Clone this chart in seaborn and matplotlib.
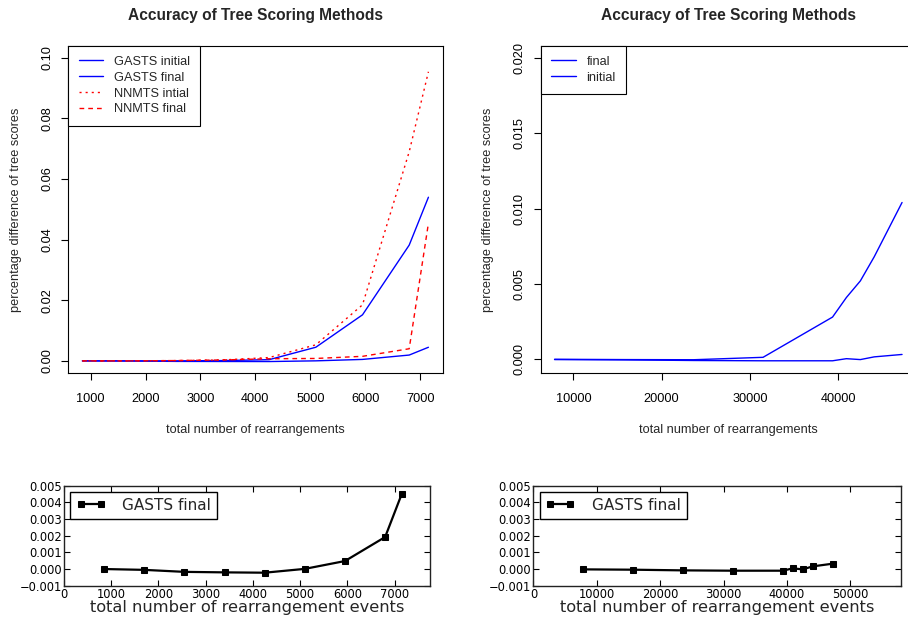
import matplotlib
matplotlib.use('Agg')
import matplotlib.pyplot as plt
from matplotlib.ticker import FuncFormatter
import seaborn as sns

# ── Data ──────────────────────────────────────────────────────────────
events_small = [850, 1700, 2550, 3400, 4250, 5100, 5950, 6800, 7150]
gasts_initial_small = [0.0, 0.0, 0.0, 0.0001, 0.0004, 0.0045, 0.0152, 0.0382, 0.0540]
gasts_final_small = [0.0, -0.00005, -0.00017, -0.0002, -0.00022, 0.00001, 0.00048, 0.00192, 0.00449]
nnmts_initial_small = [0.0, 0.0, 0.0001, 0.0003, 0.0011, 0.0053, 0.0185, 0.0690, 0.0954]
nnmts_final_small = [0.0, 0.0, 0.0001, 0.0003, 0.0007, 0.0008, 0.0015, 0.0040, 0.0454]

events_large = [7870, 15740, 23610, 31480, 39350, 40920, 42500, 44070, 47220]
gasts_initial_large = [0.0, -0.00002, -0.00003, 0.00013, 0.0028, 0.0041, 0.0052, 0.0068, 0.0104]
gasts_final_large = [-0.00002, -0.00004, -0.00008, -0.0001, -0.0001, 0.00004, -0.00002, 0.00016, 0.00032]

title_text = 'Accuracy of Tree Scoring Methods'
ylabel_text = 'percentage difference of tree scores'
xlabel_top = 'total number of rearrangements'
xlabel_bottom = 'total number of rearrangement events'

sns.set_style('ticks')

W, H = 908, 618
fig = plt.figure(figsize=(W / 100, H / 100), dpi=100)


def rect(l, t, r, b):
    return [l / W, 1 - b / H, (r - l) / W, (b - t) / H]


R_FONT = 'Liberation Sans'
MPL_FONT = 'DejaVu Sans'


def r_panel(ax, xticks, yticks, yfmt, ylab_x):
    # R base-graphics look: boxed, outward ticks, rotated y labels
    ax.set_xticks(xticks)
    ax.set_xticklabels([str(v) for v in xticks], fontfamily=R_FONT, fontsize=9.2)
    ax.set_yticks(yticks)
    ax.set_yticklabels([yfmt.format(v) for v in yticks], rotation=90, va='center',
                       fontfamily=R_FONT, fontsize=9.2)
    ax.tick_params(direction='out', length=5, width=0.8, colors='black')
    ax.tick_params(axis='x', pad=9)
    ax.tick_params(axis='y', pad=5.8)
    for s in ax.spines.values():
        s.set_visible(True)
        s.set_color('black')
        s.set_linewidth(0.8)
    ax.set_title(title_text, fontfamily=R_FONT, fontweight='bold', fontsize=11.2, pad=18.5)
    ax.set_xlabel(xlabel_top, fontfamily=R_FONT, fontsize=9.2, va='center')
    ax.set_ylabel(ylabel_text, fontfamily=R_FONT, fontsize=9.2, va='center')
    ax.xaxis.set_label_coords(0.5, -0.172)
    ax.yaxis.set_label_coords(ylab_x, 0.5)


def r_legend(ax, handles, labels):
    leg = ax.legend(handles, labels, loc='upper left', borderaxespad=0, fancybox=False,
                    frameon=True, handlelength=1.95, handletextpad=0.84, borderpad=0.8,
                    labelspacing=0.3, prop={'family': R_FONT, 'size': 9.2})
    leg.get_frame().set_edgecolor('black')
    leg.get_frame().set_linewidth(0.8)
    leg.get_frame().set_alpha(1)


# ════════════════════════════════════════════════════════════════════
# Top left: four methods vs rearrangements
# ════════════════════════════════════════════════════════════════════
ax1 = fig.add_axes(rect(68.3, 45.7, 442.7, 373.3))
sns.lineplot(x=events_small, y=gasts_initial_small, color='#0000FF', lw=1.0, ax=ax1)
sns.lineplot(x=events_small, y=gasts_final_small, color='#0000FF', lw=1.0, ax=ax1)
sns.lineplot(x=events_small, y=nnmts_initial_small, color='#FF0000', lw=1.0, ax=ax1)
sns.lineplot(x=events_small, y=nnmts_final_small, color='#FF0000', lw=1.0, ax=ax1)
l_gi, l_gf, l_ni, l_nf = ax1.lines[-4:]
l_ni.set_dashes((1.5, 2.9))
l_nf.set_dashes((3.4, 2.9))
ax1.set_xlim(593, 7410)
ax1.set_ylim(-0.0041, 0.104)
r_panel(ax1, [1000, 2000, 3000, 4000, 5000, 6000, 7000],
        [0.0, 0.02, 0.04, 0.06, 0.08, 0.10], '{:.2f}', -0.140)
r_legend(ax1, [l_gi, l_gf, l_ni, l_nf],
         ['GASTS initial', 'GASTS final', 'NNMTS intial', 'NNMTS final'])

# ════════════════════════════════════════════════════════════════════
# Top right: larger genomes
# ════════════════════════════════════════════════════════════════════
ax2 = fig.add_axes(rect(540.7, 45.7, 916, 373.3))
sns.lineplot(x=events_large, y=gasts_final_large, color='#0000FF', lw=1.0, ax=ax2)
sns.lineplot(x=events_large, y=gasts_initial_large, color='#0000FF', lw=1.0, ax=ax2)
l_f, l_i = ax2.lines[-2:]
ax2.set_xlim(6300, 48800)
ax2.set_ylim(-0.00093, 0.0208)
r_panel(ax2, [10000, 20000, 30000, 40000],
        [0.0, 0.005, 0.010, 0.015, 0.020], '{:.3f}', -0.140)
r_legend(ax2, [l_f, l_i], ['final', 'initial'])


# ════════════════════════════════════════════════════════════════════
# Bottom row: GASTS final close-ups (classic matplotlib look)
# ════════════════════════════════════════════════════════════════════
def minus_fmt(v, pos):
    return f'{v:.3f}'.replace('-', '\u2212')


def classic_panel(ax, x, y, xmax, xticks):
    sns.lineplot(x=x, y=y, color='black', lw=1.6, marker='s', markersize=4.2,
                 markeredgecolor='black', ax=ax, label='GASTS final')
    ax.set_xlim(0, xmax)
    ax.set_ylim(-0.001, 0.005)
    ax.set_xticks(xticks)
    ax.set_yticks([-0.001, 0.0, 0.001, 0.002, 0.003, 0.004, 0.005])
    ax.yaxis.set_major_formatter(FuncFormatter(minus_fmt))
    ax.tick_params(direction='in', length=4, width=0.8, colors='black', top=True,
                   right=True, labelsize=8.3, pad=1.5)
    for lab in ax.get_xticklabels() + ax.get_yticklabels():
        lab.set_fontfamily(MPL_FONT)
    for s in ax.spines.values():
        s.set_visible(True)
        s.set_color('#222222')
        s.set_linewidth(1.0)
    ax.set_xlabel(xlabel_bottom, fontfamily=MPL_FONT, fontsize=11.7, va='center')
    ax.xaxis.set_label_coords(0.5, -0.215)
    ax.set_ylabel('')
    leg = ax.legend(loc='upper left', numpoints=2, fancybox=False, frameon=True,
                    borderaxespad=0.4, borderpad=0.39, handlelength=1.91,
                    handletextpad=1.12, prop={'family': MPL_FONT, 'size': 11})
    leg.get_frame().set_edgecolor('black')
    leg.get_frame().set_linewidth(1.0)
    leg.get_frame().set_alpha(1)


ax3 = fig.add_axes(rect(64, 485.7, 430, 585.7))
classic_panel(ax3, events_small, gasts_final_small, 7750,
              [0, 1000, 2000, 3000, 4000, 5000, 6000, 7000])

ax4 = fig.add_axes(rect(533.4, 485.7, 901, 585.7))
classic_panel(ax4, events_large, gasts_final_large, 58000,
              [0, 10000, 20000, 30000, 40000, 50000])

fig.savefig('out.png', dpi=100)
